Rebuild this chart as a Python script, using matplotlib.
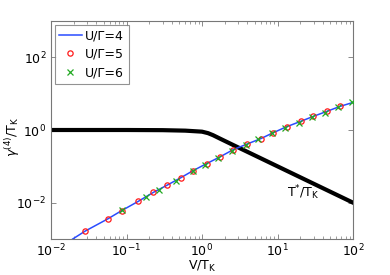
import matplotlib
matplotlib.use("Agg")
import matplotlib.pyplot as plt
from matplotlib.ticker import LogLocator, NullLocator, NullFormatter

# Blue line U/Gamma=4
v_line = [0.0194, 0.0282, 0.0564, 0.0863, 0.143, 0.226, 0.340, 0.522, 0.767, 1.153,
          1.73, 2.60, 3.98, 6.0, 8.79, 13.2, 20.3, 29.8, 44.9, 67.3, 100]
g_line = [0.001, 0.00164, 0.00357, 0.00604, 0.01086, 0.0191, 0.0298, 0.0484, 0.0767, 0.119,
          0.182, 0.289, 0.413, 0.578, 0.843, 1.23, 1.73, 2.37, 3.25, 4.46, 5.74]
# Red circles U/Gamma=5
v_red = [0.0282, 0.0564, 0.0863, 0.143, 0.226, 0.340, 0.522, 0.767, 1.153, 1.73,
         2.60, 3.98, 6.0, 8.79, 13.2, 20.3, 29.8, 44.9, 67.3]
g_red = [0.00164, 0.00357, 0.00604, 0.01086, 0.0191, 0.0298, 0.0484, 0.0767, 0.119, 0.182,
         0.289, 0.413, 0.578, 0.843, 1.23, 1.73, 2.37, 3.25, 4.46]
# Green crosses U/Gamma=6
v_green = [0.0879, 0.181, 0.272, 0.453, 0.753, 1.10, 1.64, 2.47, 3.83, 5.57, 8.38,
           12.6, 19.3, 28.4, 42.6, 63.8, 97.0]
g_green = [0.00617, 0.01396, 0.0227, 0.0401, 0.0721, 0.110, 0.174, 0.266, 0.394, 0.550,
           0.813, 1.156, 1.60, 2.23, 3.0, 4.19, 5.74]
# Black T*/T_K curve
v_star = [0.01, 0.1, 0.3, 0.6, 1.0, 1.2, 1.4, 1.7, 2.5, 10, 100]
t_star = [1.0, 1.0, 0.99, 0.96, 0.9, 0.82, 0.72, 0.59, 0.4, 0.1, 0.01]

labels = ['U/\u0393=4', 'U/\u0393=5', 'U/\u0393=6']

fig = plt.figure(figsize=(3.9, 2.75), dpi=100)
ax = fig.add_axes([51/390, 1-239/275, (353-51)/390, (239-21)/275])

ax.plot(v_star, t_star, color='black', lw=3.0, zorder=2)
ax.plot(v_line, g_line, color='#2a4cff', lw=1.1, label=labels[0], zorder=3)
ax.plot(v_red, g_red, ls='none', marker='o', mfc='none', mec='#ff1a1a', ms=3.8, mew=0.9,
        label=labels[1], zorder=4)
ax.plot(v_green, g_green, ls='none', marker='x', color='#22aa22', ms=3.8, mew=0.9,
        label=labels[2], zorder=5)

ax.set_xscale('log')
ax.set_yscale('log')
ax.set_xlim(1e-2, 1e2)
ax.set_ylim(1e-3, 1e3)
ax.set_xticks([1e-2, 1e-1, 1e0, 1e1, 1e2])
ax.xaxis.set_minor_locator(LogLocator(base=10, subs=range(2, 10), numticks=20))
ax.xaxis.set_minor_formatter(NullFormatter())
ax.set_yticks([1e-2, 1e0, 1e2])
ax.yaxis.set_minor_locator(NullLocator())

for s in ax.spines.values():
    s.set_color('#777777')
    s.set_linewidth(0.8)
ax.tick_params(which='both', direction='in', top=True, right=True, color='#777777',
               labelsize=9, labelcolor='black')
ax.tick_params(which='major', length=3.5, width=0.6)
ax.tick_params(which='minor', length=2, width=0.5)
ax.tick_params(axis='x', which='major', pad=2.5)

ax.text(13.5, 0.019, r'T$^{*}$/T$_{\rm K}$', fontsize=9, ha='left', va='center')

ax.set_xlabel(r'V/T$_{\rm K}$', fontsize=9)
ax.xaxis.set_label_coords(0.5, -0.092)
ax.set_ylabel(r'$\gamma^{(4)}$/T$_{\rm K}$', fontsize=9)
ax.yaxis.set_label_coords(-0.095, 0.47)

leg = ax.legend(loc='upper left', fontsize=9, frameon=True, fancybox=False,
                handlelength=1.8, handletextpad=0.3, borderpad=0.35, labelspacing=0.45,
                borderaxespad=0.3)
leg.get_frame().set_edgecolor('#777777')
leg.get_frame().set_linewidth(0.8)

fig.savefig('out.png', dpi=100)
